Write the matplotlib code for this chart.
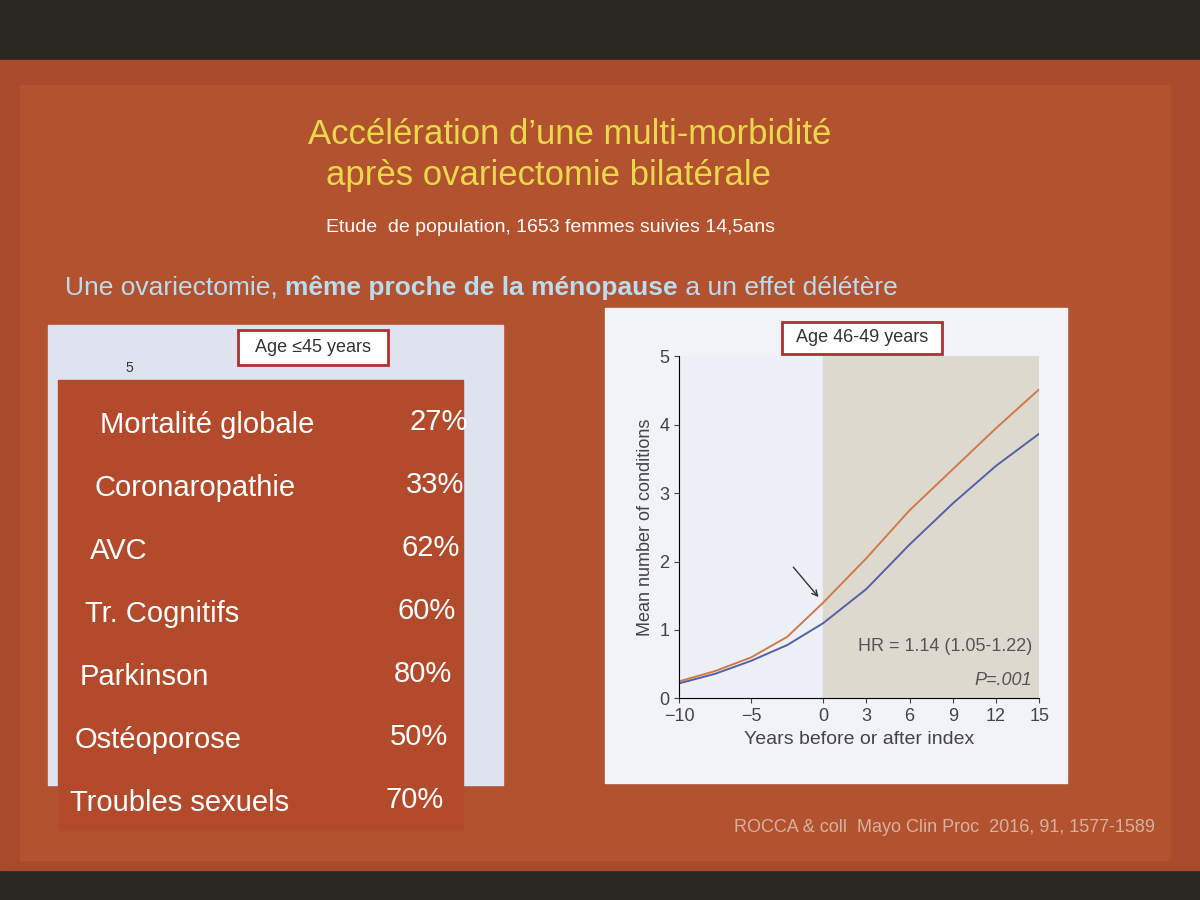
import matplotlib.pyplot as plt
from matplotlib.patches import Rectangle

plt.rcParams['font.family'] = ['Liberation Sans', 'DejaVu Sans']

# data
years = [-10, -7.5, -5, -2.5, 0, 3, 6, 9, 12, 15]
ovariectomy = [0.25, 0.40, 0.60, 0.90, 1.40, 2.05, 2.75, 3.35, 3.95, 4.52]
referent = [0.22, 0.36, 0.55, 0.78, 1.10, 1.60, 2.25, 2.85, 3.40, 3.87]
xticks = [-10, -5, 0, 3, 6, 9, 12, 15]
xtick_labels = ['\u221210', '\u22125', '0', '3', '6', '9', '12', '15']

conditions = ['Mortalité globale', 'Coronaropathie', 'AVC', 'Tr. Cognitifs',
              'Parkinson', 'Ostéoporose', 'Troubles sexuels']
increases = ['27%', '33%', '62%', '60%', '80%', '50%', '70%']

fig = plt.figure(figsize=(12, 9), dpi=100)
fig.patch.set_facecolor('#2a2622')
bg = fig.add_axes([0, 0, 1, 1])
bg.set_xlim(0, 1200)
bg.set_ylim(900, 0)
bg.axis('off')

# slide body
bg.add_patch(Rectangle((0, 60), 1200, 810, color='#a94a2c'))
bg.add_patch(Rectangle((20, 85), 1150, 775, color='#b3522f'))

bg.text(570, 135, "Accélération d\u2019une multi-morbidité", color='#e8d84a',
        fontsize=25, ha='center', va='center')
bg.text(548, 175, "après ovariectomie bilatérale", color='#e8d84a',
        fontsize=25, ha='center', va='center')
bg.text(550, 228, "Etude  de population, 1653 femmes suivies 14,5ans", color='white',
        fontsize=14, ha='center', va='center')
t1 = bg.text(65, 288, "Une ovariectomie, ", color='#b8dcf0', fontsize=19, va='center')
t2 = bg.annotate("même proche de la ménopause", xy=(1, 0), xycoords=t1,
                 color='#b8dcf0', fontsize=19, fontweight='bold', va='bottom')
bg.annotate(" a un effet délétère", xy=(1, 0), xycoords=t2,
            color='#b8dcf0', fontsize=19, va='bottom')

# left card
bg.add_patch(Rectangle((48, 325), 455, 460, color='#dfe3ef'))
bg.add_patch(Rectangle((238, 330), 150, 35, facecolor='white', edgecolor='#b03030', lw=2))
bg.text(313, 348, "Age \u226445 years", fontsize=13, ha='center', va='center', color='#333333')
bg.text(125, 372, "5", fontsize=10, color='#333333')
bg.add_patch(Rectangle((58, 380), 405, 450, color='#b44a2c'))
for i, (c, v) in enumerate(zip(conditions, increases)):
    y = 425 + i * 63
    bg.text(100 - i * 5, y, c, color='white', fontsize=21, va='center')
    bg.text(468 - i * 4, y - 3, v, color='white', fontsize=21, va='center', ha='right')

# right card
bg.add_patch(Rectangle((605, 308), 462, 475, color='#f2f3f8'))
ax = fig.add_axes([0.566, 0.224, 0.3, 0.38])
ax.set_facecolor('#eef0f8')
ax.axvspan(0, 15, color='#ddd9cf')
ax.plot(years, ovariectomy, color='#d07a4a', lw=1.4)
ax.plot(years, referent, color='#5560a8', lw=1.4)
ax.set_xlim(-10, 15)
ax.set_ylim(0, 5)
ax.set_xticks(xticks)
ax.set_xticklabels(xtick_labels)
ax.set_yticks(range(6))
ax.tick_params(labelsize=13, colors='#444444')
for s in ['top', 'right']:
    ax.spines[s].set_visible(False)
ax.set_xlabel('Years before or after index', fontsize=14, color='#444444')
ax.set_ylabel('Mean number of conditions', fontsize=13, color='#444444')
ax.annotate('', xy=(-0.2, 1.45), xytext=(-2.2, 1.95),
            arrowprops=dict(arrowstyle='->', color='#333333'))
ax.text(14.5, 0.7, 'HR = 1.14 (1.05-1.22)', ha='right', fontsize=13, color='#555555')
ax.text(14.5, 0.2, 'P=.001', ha='right', fontsize=13, color='#555555', style='italic')
bg.add_patch(Rectangle((782, 322), 160, 32, facecolor='white', edgecolor='#b03030', lw=2))
bg.text(862, 338, "Age 46-49 years", fontsize=13, ha='center', va='center', color='#333333')

bg.text(1155, 828, "ROCCA & coll  Mayo Clin Proc  2016, 91, 1577-1589",
        color='#d9b0a0', fontsize=13, ha='right', va='center')

fig.savefig('out.png', dpi=100, facecolor=fig.get_facecolor())
